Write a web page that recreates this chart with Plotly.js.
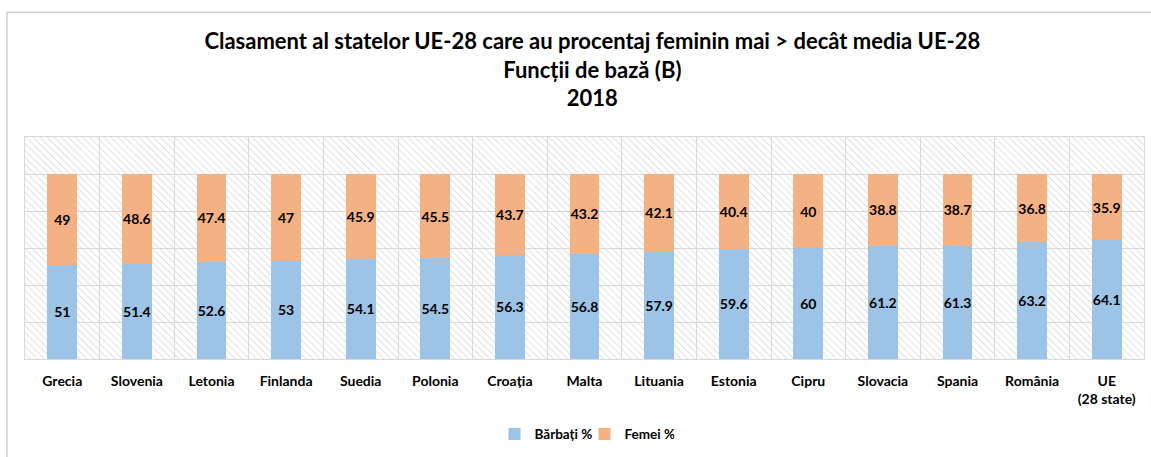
<!DOCTYPE html>
<html>
<head>
<meta charset="utf-8">
<script src="https://cdn.plot.ly/plotly-3.0.1.min.js"></script>
<style>
html,body{margin:0;padding:0;background:#fff;}
#chart{width:1151px;height:457px;}
</style>
</head>
<body>
<div id="chart"></div>
<script>
const categories = ["Grecia","Slovenia","Letonia","Finlanda","Suedia","Polonia","Croația","Malta","Lituania","Estonia","Cipru","Slovacia","Spania","România","UE<br>(28 state)"];
const barbati = [51,51.4,52.6,53,54.1,54.5,56.3,56.8,57.9,59.6,60,61.2,61.3,63.2,64.1];
const femei = [49,48.6,47.4,47,45.9,45.5,43.7,43.2,42.1,40.4,40,38.8,38.7,36.8,35.9];
const seriesNames = ["Bărbați %","Femei %"];
const titleText = "Clasament al statelor UE-28 care au procentaj feminin mai > decât media UE-28<br>Funcții de bază (B)<br>2018";

const FONT = "Lato, 'Open Sans', sans-serif";

// diagonal hatch used as plot-area background
const hatchSvg = '<svg xmlns="http://www.w3.org/2000/svg" width="1119" height="224" viewBox="0 0 1119 224" preserveAspectRatio="none">' +
  '<defs><pattern id="h" patternUnits="userSpaceOnUse" width="5" height="5" patternTransform="rotate(-45)">' +
  '<rect width="5" height="5" fill="#ffffff"/><line x1="0" y1="0" x2="0" y2="5" stroke="#d4d4d4" stroke-width="1.4"/></pattern></defs>' +
  '<rect width="1119" height="224" fill="url(#h)"/></svg>';
const hatchUri = 'data:image/svg+xml;charset=utf-8,' + encodeURIComponent(hatchSvg);

const traces = [
  {type:'bar', name:seriesNames[0], x:categories, y:barbati, text:barbati.map(String),
   textposition:'inside', insidetextanchor:'middle', textangle:0,
   textfont:{family:FONT, size:14, color:'#000', weight:'bold'},
   marker:{color:'#9DC3E6'}, width:0.4, hoverinfo:'x+y'},
  {type:'bar', name:seriesNames[1], x:categories, y:femei, text:femei.map(String),
   textposition:'inside', insidetextanchor:'middle', textangle:0,
   textfont:{family:FONT, size:14, color:'#000', weight:'bold'},
   marker:{color:'#F4B183'}, width:0.4, hoverinfo:'x+y'}
];

const layout = {
  width:1151, height:457,
  paper_bgcolor:'#fff', plot_bgcolor:'#fff',
  font:{family:FONT, color:'#000'},
  barmode:'stack',
  uniformtext:{mode:'show', minsize:14},
  margin:{l:25, r:7, t:137, b:96},
  title:{text:titleText, x:0.507, xanchor:'center', xref:'paper', y:1-49/457, yanchor:'top', yref:'container',
    font:{family:FONT, size:22, color:'#000', weight:'bold'}},
  xaxis:{type:'category', tickson:'boundaries', showgrid:true, gridcolor:'#d9d9d9', gridwidth:1,
    showline:true, linecolor:'#d9d9d9', mirror:true, ticks:'', ticklabelstandoff:9,
    tickfont:{family:FONT, size:14, color:'#000', weight:'bold'}, fixedrange:true},
  yaxis:{range:[0,120], dtick:20, showgrid:true, gridcolor:'#d9d9d9', gridwidth:1,
    showticklabels:false, zeroline:false, showline:true, linecolor:'#d9d9d9', mirror:true, ticks:'', fixedrange:true},
  legend:{orientation:'h', x:0.5, xanchor:'center', xref:'paper', y:-76/224, yanchor:'middle',
    font:{family:FONT, size:13.5, color:'#000', weight:'bold'}, traceorder:'normal', itemwidth:30,
    entrywidth:45, entrywidthmode:'pixels'},
  showlegend:true,
  images:[{source:hatchUri, xref:'paper', yref:'paper', x:0, y:1, sizex:1, sizey:1,
    xanchor:'left', yanchor:'top', sizing:'stretch', layer:'below'}],
  shapes:[
    {type:'line', xref:'paper', yref:'paper', x0:-18/1119, x1:1.1, y0:126/224 + 1, y1:126/224 + 1, line:{color:'#d0d0d0', width:1.5}},
    {type:'line', xref:'paper', yref:'paper', x0:-18/1119, x1:-18/1119, y0:126/224 + 1, y1:-1, line:{color:'#d0d0d0', width:1.5}}
  ]
};

Plotly.newPlot('chart', traces, layout, {displayModeBar:false, staticPlot:true});
</script>
</body>
</html>
